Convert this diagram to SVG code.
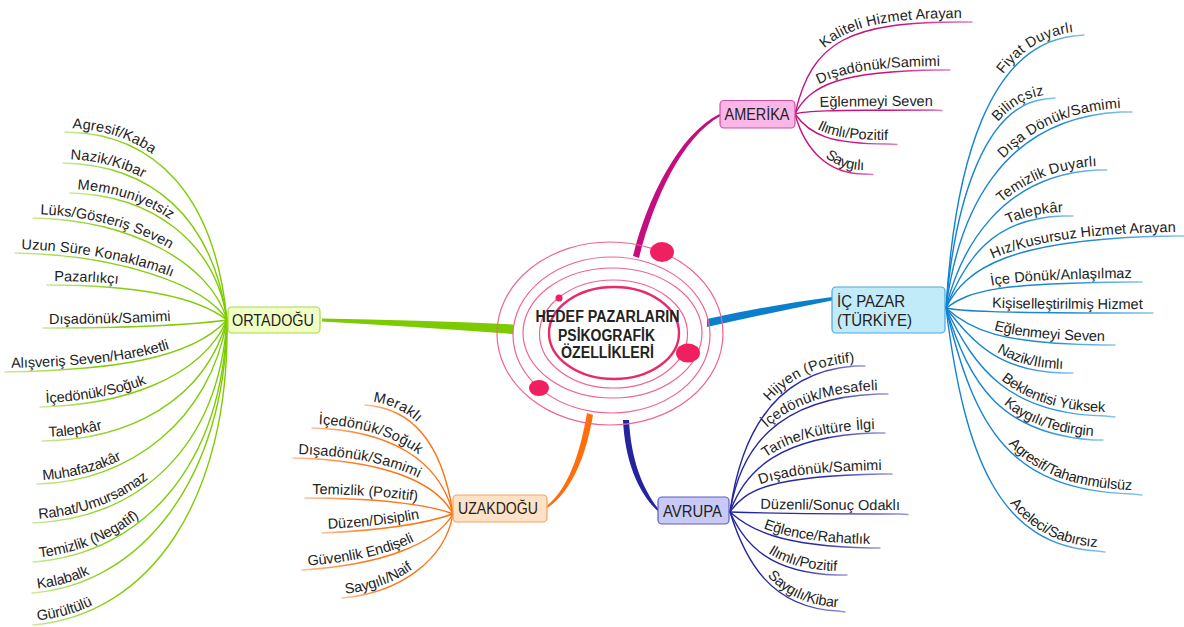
<svg xmlns="http://www.w3.org/2000/svg" xmlns:xlink="http://www.w3.org/1999/xlink" width="1184" height="627" viewBox="0 0 1184 627">
<style>
text{font-family:"Liberation Sans",Arial,sans-serif;fill:#222;}
.lf{font-size:14.5px;}
.r{text-anchor:end;}
.nt{font-size:16px;}
.ct{font-size:16px;font-weight:bold;text-anchor:middle;fill:#222;}
.ln{fill:none;stroke-width:1.4;stroke-linecap:round;}
.am{stroke:url(#gAm);}
.ic{stroke:url(#gIc);}
.od{stroke:url(#gOd);}
.uz{stroke:url(#gUz);}
.av{stroke:url(#gAv);}
.ring{fill:none;stroke:#f06390;stroke-width:1.2;}
.dot{fill:#f01f60;}
.box{stroke-width:1.2;}
</style>
<defs>
<linearGradient id="gAm" x1="0" y1="0" x2="1" y2="0"><stop offset="0" stop-color="#c8107f"/><stop offset="0.6" stop-color="#c8107f"/><stop offset="1" stop-color="#e27fbd"/></linearGradient>
<linearGradient id="gIc" x1="0" y1="0" x2="1" y2="0"><stop offset="0" stop-color="#1182cf"/><stop offset="0.6" stop-color="#1f8ad3"/><stop offset="1" stop-color="#8cc4ea"/></linearGradient>
<linearGradient id="gAv" x1="0" y1="0" x2="1" y2="0"><stop offset="0" stop-color="#24249e"/><stop offset="0.6" stop-color="#2c2ca6"/><stop offset="1" stop-color="#9a9ad6"/></linearGradient>
<linearGradient id="gOd" x1="1" y1="0" x2="0" y2="0"><stop offset="0" stop-color="#7ccb00"/><stop offset="0.6" stop-color="#86cf12"/><stop offset="1" stop-color="#c9ea96"/></linearGradient>
<linearGradient id="gUz" x1="1" y1="0" x2="0" y2="0"><stop offset="0" stop-color="#ff6e0a"/><stop offset="0.6" stop-color="#ff7a1e"/><stop offset="1" stop-color="#ffc096"/></linearGradient>
<path id="a1" d="M795,114 C812,40 850,22 962,22"/>
<path id="a2" d="M795,114 C810,85 840,71 940,70"/>
<path id="a3" d="M795,114 C805,111 822,110 933,110"/>
<path id="a4" d="M795,114 C810,135 830,144 888,144"/>
<path id="a5" d="M795,114 C805,150 828,174 864,174"/>
<path id="i1" d="M946,308 C955,160 990,45 1074,36"/>
<path id="i2" d="M946,308 C955,200 985,106 1045,99"/>
<path id="i3" d="M946,308 C958,215 1000,118 1121,112"/>
<path id="i4" d="M946,308 C960,250 1000,175 1097,170"/>
<path id="i5" d="M946,308 C965,260 992,218 1063,216"/>
<path id="i6" d="M946,308 C965,268 1010,238 1176,236"/>
<path id="i7" d="M946,308 C970,290 1000,283 1132,282"/>
<path id="i8" d="M946,308 C960,311 990,313 1143,313"/>
<path id="i9" d="M946,308 C970,330 1000,344 1105,345"/>
<path id="i10" d="M946,308 C975,345 1000,371 1063,373"/>
<path id="i11" d="M946,308 C975,370 1010,414 1105,416"/>
<path id="i12" d="M946,308 C970,385 1000,433 1093,440"/>
<path id="i13" d="M946,308 C975,430 1010,490 1132,494"/>
<path id="i14" d="M946,308 C965,460 1000,545 1097,551"/>
<path id="v1" d="M730,512 C740,440 770,372 855,366"/>
<path id="v2" d="M730,512 C740,450 775,398 878,394"/>
<path id="v3" d="M730,512 C745,470 780,436 875,433"/>
<path id="v4" d="M730,512 C745,490 770,476 882,474"/>
<path id="v5" d="M730,512 C760,513 800,514 900,514"/>
<path id="v6" d="M730,512 C750,530 780,546 870,548"/>
<path id="v7" d="M730,512 C745,545 770,573 837,575"/>
<path id="v8" d="M730,512 C745,560 770,608 838,611"/>
<path id="o1" d="M65,132 C155,133 215,195 227,320"/>
<path id="o2" d="M63,163 C150,165 212,215 227,320"/>
<path id="o3" d="M70,193 C150,195 215,240 227,320"/>
<path id="o4" d="M33,218 C130,220 210,262 227,320"/>
<path id="o5" d="M15,253 C120,255 205,285 227,320"/>
<path id="o6" d="M47,285 C130,285 195,295 227,320"/>
<path id="o7" d="M43,328 C120,328 190,325 227,320"/>
<path id="o8" d="M5,372 C110,370 190,360 227,320"/>
<path id="o9" d="M40,407 C120,405 200,380 227,320"/>
<path id="o10" d="M42,441 C130,440 205,400 227,320"/>
<path id="o11" d="M37,484 C130,482 210,420 227,320"/>
<path id="o12" d="M33,523 C140,518 218,448 227,320"/>
<path id="o13" d="M33,562 C145,553 222,465 227,320"/>
<path id="o14" d="M32,593 C140,585 225,480 227,320"/>
<path id="o15" d="M33,625 C150,615 230,500 227,320"/>
<path id="u1" d="M365,405 C410,408 442,440 453,514"/>
<path id="u2" d="M312,428 C390,430 440,460 453,514"/>
<path id="u3" d="M293,458 C380,460 435,480 453,514"/>
<path id="u4" d="M305,498 C380,498 430,505 453,514"/>
<path id="u5" d="M322,533 C390,530 430,522 453,514"/>
<path id="u6" d="M302,570 C380,565 435,545 453,514"/>
<path id="u7" d="M342,598 C400,593 445,560 453,514"/>
</defs>
<rect width="1184" height="627" fill="#fff"/>

<g id="connectors">
<path d="M633,256 C647,199 679,134 719.5,114 L720.5,116 C682,137 653,201 639,258 Z" fill="#c40e80"/>
<path d="M707,319 Q770,305 832,297 L832,300.5 Q770,313 707,327 Z" fill="#0a80cc"/>
<path d="M513,324.5 Q420,320 322,318.5 L322,321.5 Q420,327 513,334 Z" fill="#7ccb00"/>
<path d="M587,413 C580,454 568,489 546.4,506.2 L547.6,507.8 C572,491 586,456 593,415 Z" fill="#ff6e0a"/>
<path d="M623,420 C625,461 638,492 657.3,510.7 L658.7,509.3 C642,488 631,459 629,420 Z" fill="#24249e"/>
<path class="ln am" d="M795,114 C812,40 850,22 962,22 L972,22"/>
<path class="ln am" d="M795,114 C810,85 840,71 940,70 L950,70"/>
<path class="ln am" d="M795,114 C805,111 822,110 933,110 L942,110.5"/>
<path class="ln am" d="M795,114 C810,135 830,144 888,144 L897,144.5"/>
<path class="ln am" d="M795,114 C805,150 828,174 864,174 L873,174.5"/>
<path class="ln ic" d="M946,308 C955,160 990,45 1074,36 L1084,35"/>
<path class="ln ic" d="M946,308 C955,200 985,106 1045,99 L1055,98"/>
<path class="ln ic" d="M946,308 C958,215 1000,118 1121,112 L1132,112"/>
<path class="ln ic" d="M946,308 C960,250 1000,175 1097,170 L1107,170"/>
<path class="ln ic" d="M946,308 C965,260 992,218 1063,216 L1073,216"/>
<path class="ln ic" d="M946,308 C965,268 1010,238 1176,236 L1184,236"/>
<path class="ln ic" d="M946,308 C970,290 1000,283 1132,282 L1142,282"/>
<path class="ln ic" d="M946,308 C960,311 990,313 1143,313 L1153,313"/>
<path class="ln ic" d="M946,308 C970,330 1000,344 1105,345 L1115,345"/>
<path class="ln ic" d="M946,308 C975,345 1000,371 1063,373 L1073,373"/>
<path class="ln ic" d="M946,308 C975,370 1010,414 1105,416 L1115,417"/>
<path class="ln ic" d="M946,308 C970,385 1000,433 1093,440 L1103,440"/>
<path class="ln ic" d="M946,308 C975,430 1010,490 1132,494 L1142,495"/>
<path class="ln ic" d="M946,308 C965,460 1000,545 1097,551 L1105,552"/>
<path class="ln av" d="M730,512 C740,440 770,372 855,366 L865,366"/>
<path class="ln av" d="M730,512 C740,450 775,398 878,394 L888,394"/>
<path class="ln av" d="M730,512 C745,470 780,436 875,433 L885,433"/>
<path class="ln av" d="M730,512 C745,490 770,476 882,474 L892,474"/>
<path class="ln av" d="M730,512 C760,513 800,514 900,514 L908,514.5"/>
<path class="ln av" d="M730,512 C750,530 780,546 870,548 L880,548"/>
<path class="ln av" d="M730,512 C745,545 770,573 837,575 L847,575"/>
<path class="ln av" d="M730,512 C745,560 770,608 838,611 L845,612"/>
<use class="ln od" href="#o1"/><use class="ln od" href="#o2"/><use class="ln od" href="#o3"/>
<use class="ln od" href="#o4"/><use class="ln od" href="#o5"/><use class="ln od" href="#o6"/>
<use class="ln od" href="#o7"/><use class="ln od" href="#o8"/><use class="ln od" href="#o9"/>
<use class="ln od" href="#o10"/><use class="ln od" href="#o11"/><use class="ln od" href="#o12"/>
<use class="ln od" href="#o13"/><use class="ln od" href="#o14"/><use class="ln od" href="#o15"/>
<use class="ln uz" href="#u1"/><use class="ln uz" href="#u2"/><use class="ln uz" href="#u3"/>
<use class="ln uz" href="#u4"/><use class="ln uz" href="#u5"/><use class="ln uz" href="#u6"/>
<use class="ln uz" href="#u7"/>
</g>

<g id="node-center">
<ellipse class="ring" cx="610" cy="333.5" rx="113" ry="91.5"/>
<ellipse class="ring" cx="611.5" cy="335" rx="98.5" ry="78"/>
<ellipse class="ring" cx="612.5" cy="333" rx="89.5" ry="65"/>
<ellipse class="ring" cx="613.5" cy="334" rx="74" ry="54"/>
<ellipse cx="614" cy="333" rx="65" ry="46" fill="none" stroke="#e8296a" stroke-width="2.4"/>
<ellipse class="dot" cx="662" cy="252" rx="12" ry="10"/>
<ellipse class="dot" cx="688" cy="353" rx="12" ry="9.5"/>
<ellipse class="dot" cx="539" cy="388" rx="10" ry="8"/>
<circle class="dot" cx="559" cy="298" r="3.5"/>
<text class="ct" x="607.5" y="321.5" textLength="144" lengthAdjust="spacingAndGlyphs">HEDEF PAZARLARIN</text>
<text class="ct" x="606.5" y="340.5" textLength="97" lengthAdjust="spacingAndGlyphs">PSİKOGRAFİK</text>
<text class="ct" x="607.5" y="358" textLength="93" lengthAdjust="spacingAndGlyphs">ÖZELLİKLERİ</text>
</g>

<g id="node-amerika">
<rect class="box" x="720" y="100.5" width="75" height="27.5" rx="4" fill="#f9b6e6" stroke="#cf4fa3"/>
<text class="nt" x="724.5" y="120" textLength="65" lengthAdjust="spacingAndGlyphs">AMERİKA</text>
</g>
<g id="node-icpazar">
<rect class="box" x="832" y="287" width="113" height="46" rx="4" fill="#c2ebfa" stroke="#4ea6dc"/>
<text class="nt" x="837" y="306.5" textLength="68" lengthAdjust="spacingAndGlyphs">İÇ PAZAR</text>
<text class="nt" x="837" y="325.5" textLength="75" lengthAdjust="spacingAndGlyphs">(TÜRKİYE)</text>
</g>
<g id="node-ortadogu">
<rect class="box" x="228" y="307" width="92" height="26" rx="4" fill="#f1ffc4" stroke="#a6d655"/>
<text class="nt" x="232" y="325.5" textLength="82" lengthAdjust="spacingAndGlyphs">ORTADOĞU</text>
</g>
<g id="node-uzakdogu">
<rect class="box" x="453" y="495" width="94" height="27" rx="4" fill="#ffe2c6" stroke="#f4a262"/>
<text class="nt" x="458" y="514" textLength="80" lengthAdjust="spacingAndGlyphs">UZAKDOĞU</text>
</g>
<g id="node-avrupa">
<rect class="box" x="658" y="497" width="71" height="27" rx="4" fill="#c9c9f6" stroke="#5e5ec0"/>
<text class="nt" x="663" y="516.5" textLength="59" lengthAdjust="spacingAndGlyphs">AVRUPA</text>
</g>

<g id="amerika-leaves">
<g id="am-1"><text class="lf r" dy="-4"><textPath href="#a1" startOffset="100%">Kaliteli Hizmet Arayan</textPath></text></g>
<g id="am-2"><text class="lf r" dy="-4"><textPath href="#a2" startOffset="100%">Dışadönük/Samimi</textPath></text></g>
<g id="am-3"><text class="lf r" dy="-4"><textPath href="#a3" startOffset="100%">Eğlenmeyi Seven</textPath></text></g>
<g id="am-4"><text class="lf r" dy="-4"><textPath href="#a4" startOffset="100%">Ilımlı/Pozitif</textPath></text></g>
<g id="am-5"><text class="lf r" dy="-4"><textPath href="#a5" startOffset="100%">Saygılı</textPath></text></g>
</g>
<g id="icpazar-leaves">
<g id="ic-1"><text class="lf r" dy="-4"><textPath href="#i1" startOffset="100%">Fiyat Duyarlı</textPath></text></g>
<g id="ic-2"><text class="lf r" dy="-4"><textPath href="#i2" startOffset="100%">Bilinçsiz</textPath></text></g>
<g id="ic-3"><text class="lf r" dy="-4"><textPath href="#i3" startOffset="100%">Dışa Dönük/Samimi</textPath></text></g>
<g id="ic-4"><text class="lf r" dy="-4"><textPath href="#i4" startOffset="100%">Temizlik Duyarlı</textPath></text></g>
<g id="ic-5"><text class="lf r" dy="-4"><textPath href="#i5" startOffset="100%">Talepkâr</textPath></text></g>
<g id="ic-6"><text class="lf r" dy="-4"><textPath href="#i6" startOffset="100%">Hız/Kusursuz Hizmet Arayan</textPath></text></g>
<g id="ic-7"><text class="lf r" dy="-4"><textPath href="#i7" startOffset="100%">İçe Dönük/Anlaşılmaz</textPath></text></g>
<g id="ic-8"><text class="lf r" dy="-4"><textPath href="#i8" startOffset="100%">Kişiselleştirilmiş Hizmet</textPath></text></g>
<g id="ic-9"><text class="lf r" dy="-4"><textPath href="#i9" startOffset="100%">Eğlenmeyi Seven</textPath></text></g>
<g id="ic-10"><text class="lf r" dy="-4"><textPath href="#i10" startOffset="100%">Nazik/Ilımlı</textPath></text></g>
<g id="ic-11"><text class="lf r" dy="-4"><textPath href="#i11" startOffset="100%">Beklentisi Yüksek</textPath></text></g>
<g id="ic-12"><text class="lf r" dy="-4"><textPath href="#i12" startOffset="100%">Kaygılı/Tedirgin</textPath></text></g>
<g id="ic-13"><text class="lf r" dy="-4"><textPath href="#i13" startOffset="100%">Agresif/Tahammülsüz</textPath></text></g>
<g id="ic-14"><text class="lf r" dy="-4"><textPath href="#i14" startOffset="100%">Aceleci/Sabırsız</textPath></text></g>
</g>
<g id="avrupa-leaves">
<g id="av-1"><text class="lf r" dy="-4"><textPath href="#v1" startOffset="100%">Hijyen (Pozitif)</textPath></text></g>
<g id="av-2"><text class="lf r" dy="-4"><textPath href="#v2" startOffset="100%">İçedönük/Mesafeli</textPath></text></g>
<g id="av-3"><text class="lf r" dy="-4"><textPath href="#v3" startOffset="100%">Tarihe/Kültüre İlgi</textPath></text></g>
<g id="av-4"><text class="lf r" dy="-4"><textPath href="#v4" startOffset="100%">Dışadönük/Samimi</textPath></text></g>
<g id="av-5"><text class="lf r" dy="-4"><textPath href="#v5" startOffset="100%">Düzenli/Sonuç Odaklı</textPath></text></g>
<g id="av-6"><text class="lf r" dy="-4"><textPath href="#v6" startOffset="100%">Eğlence/Rahatlık</textPath></text></g>
<g id="av-7"><text class="lf r" dy="-4"><textPath href="#v7" startOffset="100%">Ilımlı/Pozitif</textPath></text></g>
<g id="av-8"><text class="lf r" dy="-4"><textPath href="#v8" startOffset="100%">Saygılı/Kibar</textPath></text></g>
</g>
<g id="ortadogu-leaves">
<g id="od-1"><text class="lf" dy="-4"><textPath href="#o1" startOffset="7">Agresif/Kaba</textPath></text></g>
<g id="od-2"><text class="lf" dy="-4"><textPath href="#o2" startOffset="7">Nazik/Kibar</textPath></text></g>
<g id="od-3"><text class="lf" dy="-4"><textPath href="#o3" startOffset="7">Memnuniyetsiz</textPath></text></g>
<g id="od-4"><text class="lf" dy="-4"><textPath href="#o4" startOffset="7">Lüks/Gösteriş Seven</textPath></text></g>
<g id="od-5"><text class="lf" dy="-4"><textPath href="#o5" startOffset="6">Uzun Süre Konaklamalı</textPath></text></g>
<g id="od-6"><text class="lf" dy="-4"><textPath href="#o6" startOffset="7">Pazarlıkçı</textPath></text></g>
<g id="od-7"><text class="lf" dy="-4"><textPath href="#o7" startOffset="6">Dışadönük/Samimi</textPath></text></g>
<g id="od-8"><text class="lf" dy="-4"><textPath href="#o8" startOffset="6">Alışveriş Seven/Hareketli</textPath></text></g>
<g id="od-9"><text class="lf" dy="-4"><textPath href="#o9" startOffset="6">İçedönük/Soğuk</textPath></text></g>
<g id="od-10"><text class="lf" dy="-4"><textPath href="#o10" startOffset="7">Talepkâr</textPath></text></g>
<g id="od-11"><text class="lf" dy="-4"><textPath href="#o11" startOffset="6">Muhafazakâr</textPath></text></g>
<g id="od-12"><text class="lf" dy="-4"><textPath href="#o12" startOffset="6">Rahat/Umursamaz</textPath></text></g>
<g id="od-13"><text class="lf" dy="-4"><textPath href="#o13" startOffset="7">Temizlik (Negatif)</textPath></text></g>
<g id="od-14"><text class="lf" dy="-4"><textPath href="#o14" startOffset="6">Kalabalk</textPath></text></g>
<g id="od-15"><text class="lf" dy="-4"><textPath href="#o15" startOffset="5">Gürültülü</textPath></text></g>
</g>
<g id="uzakdogu-leaves">
<g id="uz-1"><text class="lf" dy="-4"><textPath href="#u1" startOffset="7">Meraklı</textPath></text></g>
<g id="uz-2"><text class="lf" dy="-4"><textPath href="#u2" startOffset="6">İçedönük/Soğuk</textPath></text></g>
<g id="uz-3"><text class="lf" dy="-4"><textPath href="#u3" startOffset="5">Dışadönük/Samimi</textPath></text></g>
<g id="uz-4"><text class="lf" dy="-4"><textPath href="#u4" startOffset="7">Temizlik (Pozitif)</textPath></text></g>
<g id="uz-5"><text class="lf" dy="-4"><textPath href="#u5" startOffset="6">Düzen/Disiplin</textPath></text></g>
<g id="uz-6"><text class="lf" dy="-4"><textPath href="#u6" startOffset="6">Güvenlik Endişeli</textPath></text></g>
<g id="uz-7"><text class="lf" dy="-4"><textPath href="#u7" startOffset="4">Saygılı/Naif</textPath></text></g>
</g>
</svg>
